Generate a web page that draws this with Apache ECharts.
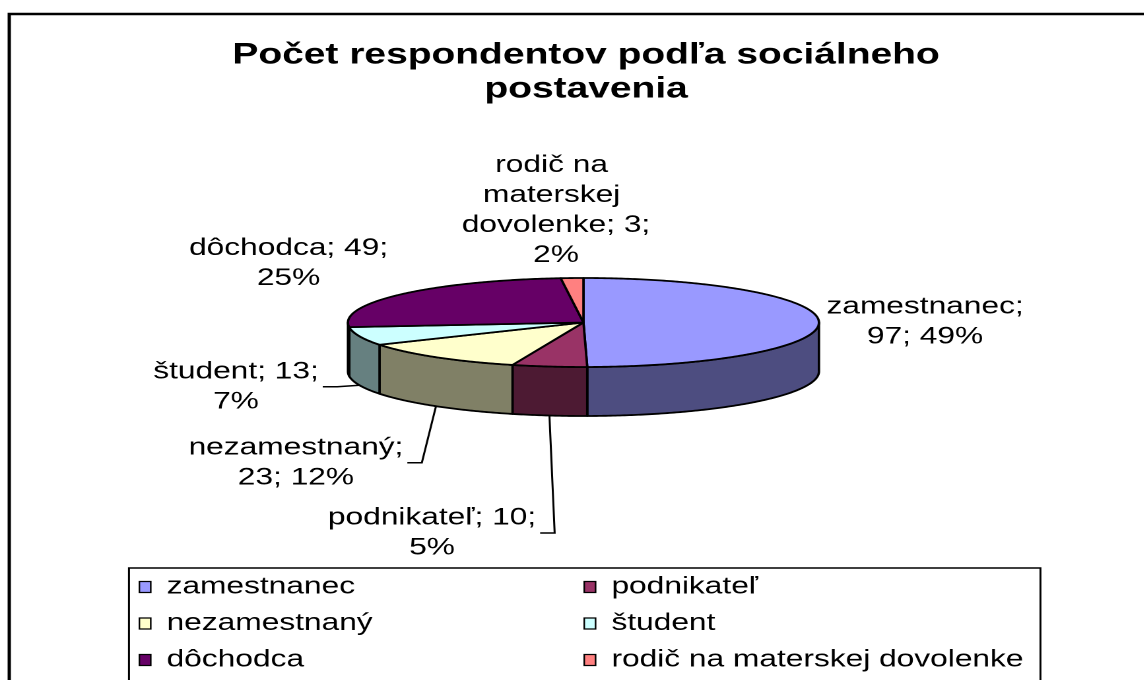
<!DOCTYPE html>
<html>
<head>
<meta charset="utf-8">
<title>Počet respondentov</title>
<script src="https://cdn.jsdelivr.net/npm/echarts@6/dist/echarts.min.js"></script>
<style>
html, body { margin: 0; padding: 0; background: #fff; overflow: hidden; }
/* the original picture is stretched sideways, so the whole chart is too */
#main { width: 867px; height: 680px; transform: scaleX(1.32); transform-origin: 0 0; }
</style>
</head>
<body>
<div id="main"></div>
<script>
var categories = ['zamestnanec', 'podnikateľ', 'nezamestnaný', 'študent', 'dôchodca', 'rodič na materskej dovolenke'];
var counts = [97, 10, 23, 13, 49, 3];
var percents = [49, 5, 12, 7, 25, 2];

var topColors = ['#9999FF', '#993366', '#FFFFCC', '#CCFFFF', '#660066', '#FF8080'];
var sideColors = ['#4D4D80', '#4D1A33', '#808066', '#668080', '#330033', '#804040'];

// layout (unstretched page coordinates)
var FONT = '"Liberation Sans", Arial, sans-serif';
var pie = { cx: 442, cy: 322.5, rx: 178.4, ry: 44.5, depth: 49 };
var labelPos = [[700.8, 322], [327.3, 533], [224.2, 462.7], [178.8, 386.7], [218.6, 263.4], [421.2, 210.5]];
var labelBreak = ['name', 'value', 'name', 'value', 'value', 'value'];
var labelWidth = [null, null, null, null, null, 160];
var labelLine = [false, true, true, true, false, false];

var total = 0;
for (var k = 0; k < counts.length; k++) total += counts[k];

var measureCtx = document.createElement('canvas').getContext('2d');
measureCtx.font = '24px ' + FONT;

function labelText(i) {
	if (labelBreak[i] == 'name') {
		return categories[i] + ';\n' + counts[i] + '; ' + percents[i] + '%';
	}
	return categories[i] + '; ' + counts[i] + ';\n' + percents[i] + '%';
}

function pt(a, down) {
	return [pie.cx + pie.rx * Math.sin(a), pie.cy - pie.ry * Math.cos(a) + (down || 0)];
}

function arc(a, b, down) {
	var pts = [];
	var n = Math.max(2, Math.ceil((b - a) / 0.01));
	for (var j = 0; j <= n; j++) {
		pts.push(pt(a + (b - a) * j / n, down));
	}
	return pts;
}

function makeRender(i) {
	return function (params, api) {
		var before = 0;
		for (var j = 0; j < i; j++) before += counts[j];
		var start = before / total * Math.PI * 2;
		var end = start + api.value(0) / total * Math.PI * 2;
		var children = [];

		// front side wall (only the half facing us)
		var a = Math.max(start, Math.PI / 2);
		var b = Math.min(end, Math.PI * 3 / 2);
		if (b > a) {
			var side = arc(a, b, 0).concat(arc(a, b, pie.depth).reverse());
			children.push({
				type: 'polygon',
				shape: { points: side },
				style: { fill: sideColors[i], stroke: '#000', lineWidth: 1.8, lineJoin: 'round' }
			});
		}

		// top face
		var top = [[pie.cx, pie.cy]].concat(arc(start, end, 0));
		children.push({
			type: 'polygon',
			shape: { points: top },
			style: { fill: api.visual('color'), stroke: '#000', lineWidth: 1.8, lineJoin: 'round' }
		});

		// data label
		var txt = labelText(i);
		var lx = labelPos[i][0], ly = labelPos[i][1];
		var textStyle = {
			text: txt, x: lx, y: ly,
			align: 'center', verticalAlign: 'middle',
			font: '24px ' + FONT, lineHeight: 30, fill: '#000'
		};
		if (labelWidth[i]) {
			textStyle.width = labelWidth[i];
			textStyle.overflow = 'break';
		}
		children.push({ type: 'text', style: textStyle });

		if (labelLine[i]) {
			var lines = txt.split('\n');
			var w = 0;
			for (var m = 0; m < lines.length; m++) {
				w = Math.max(w, measureCtx.measureText(lines[m]).width);
			}
			var sx = lx + w / 2 + 3;
			var anchor = pt((start + end) / 2, pie.depth);
			children.push({
				type: 'polyline',
				shape: { points: [[sx, ly], [sx + 11, ly], anchor] },
				style: { stroke: '#000', lineWidth: 1.5, fill: null }
			});
		}

		return { type: 'group', children: children };
	};
}

var series = [];
for (var i = 0; i < categories.length; i++) {
	series.push({
		name: categories[i],
		type: 'custom',
		coordinateSystem: 'none',
		silent: true,
		itemStyle: { color: topColors[i] },
		data: [[counts[i]]],
		renderItem: makeRender(i)
	});
}

var legendText = {
	fontFamily: FONT,
	fontSize: 24,
	lineHeight: 24,
	color: '#000',
	padding: [0, 0, 0, 7]
};

var chart = echarts.init(document.getElementById('main'), null, { devicePixelRatio: 2 });
chart.setOption({
	animation: false,
	backgroundColor: '#fff',
	title: {
		text: 'Počet respondentov podľa sociálneho\npostavenia',
		left: 444,
		textAlign: 'center',
		top: 38.5,
		padding: 0,
		textStyle: {
			fontFamily: FONT,
			fontSize: 29.5,
			fontWeight: 'bold',
			color: '#000',
			lineHeight: 34
		}
	},
	graphic: [{
		type: 'rect',
		shape: { x: 7, y: 14, width: 1000, height: 700 },
		style: { fill: null, stroke: '#000', lineWidth: 2.5 },
		silent: true
	}, {
		type: 'rect',
		shape: { x: 97.7, y: 568, width: 690.5, height: 200 },
		style: { fill: null, stroke: '#000', lineWidth: 1.5 },
		silent: true
	}],
	legend: [{
		data: [categories[0], categories[2], categories[4]],
		orient: 'vertical',
		left: 105,
		top: 575,
		padding: 0,
		itemGap: 12.5,
		icon: 'rect',
		itemWidth: 8.6,
		itemHeight: 11,
		itemStyle: { borderColor: '#000', borderWidth: 1.2 },
		selectedMode: false,
		textStyle: legendText
	}, {
		data: [categories[1], categories[3], categories[5]],
		orient: 'vertical',
		left: 442,
		top: 575,
		padding: 0,
		itemGap: 12.5,
		icon: 'rect',
		itemWidth: 8.6,
		itemHeight: 11,
		itemStyle: { borderColor: '#000', borderWidth: 1.2 },
		selectedMode: false,
		textStyle: legendText
	}],
	series: series
});
</script>
</body>
</html>
